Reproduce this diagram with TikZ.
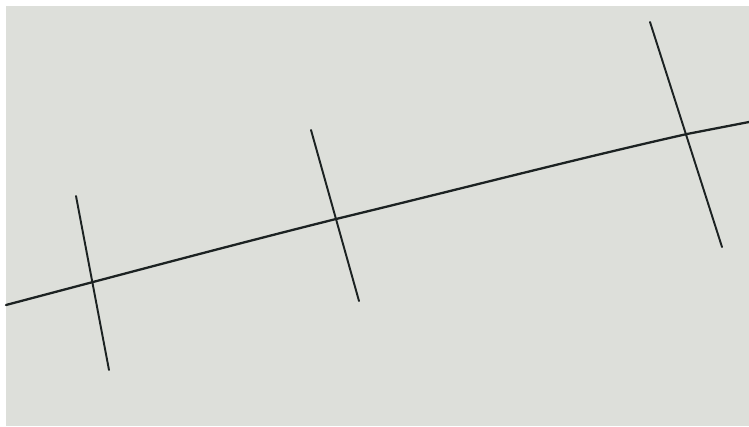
\documentclass[tikz,border=0pt]{standalone}
\usetikzlibrary{calc}
\definecolor{paper}{RGB}{221,223,218}
\definecolor{pencil}{RGB}{28,34,34}

\begin{document}
\begin{tikzpicture}[x=0.02cm, y=-0.02cm,
    mainline/.style={pencil, line width=1.3pt, line cap=round},
    tickline/.style={pencil, line width=1.1pt, line cap=round}]

  %% Sheet of paper with white frame on top and left
  \fill[white] (0,0) rectangle (749,426);
  \fill[paper] (6,6) rectangle (749,426);
  \useasboundingbox (0,0) rectangle (749,426);

  % Crossing points on the line
  \coordinate (start) at (6,305);
  \coordinate (cross1) at (93,282);
  \coordinate (cross2) at (336,219);
  \coordinate (cross3) at (687,134);
  \coordinate (stop) at (749,122);

  % Tick ends
  \coordinate (top1) at (76,196);
  \coordinate (bot1) at (109,370);
  \coordinate (top2) at (311,130);
  \coordinate (bot2) at (359,301);
  \coordinate (top3) at (650,22);
  \coordinate (bot3) at (722,247);

  % The long line
  \draw[mainline] (start) -- (cross1)
    .. controls (180,259) and (260,238) .. (cross2)
    .. controls (460,189) and (580,158) .. (cross3)
    -- (stop);

  % Tick marks
  \foreach \i in {1,2,3} {
    \draw[tickline] (top\i) -- (bot\i);
  }

\end{tikzpicture}
\end{document}
